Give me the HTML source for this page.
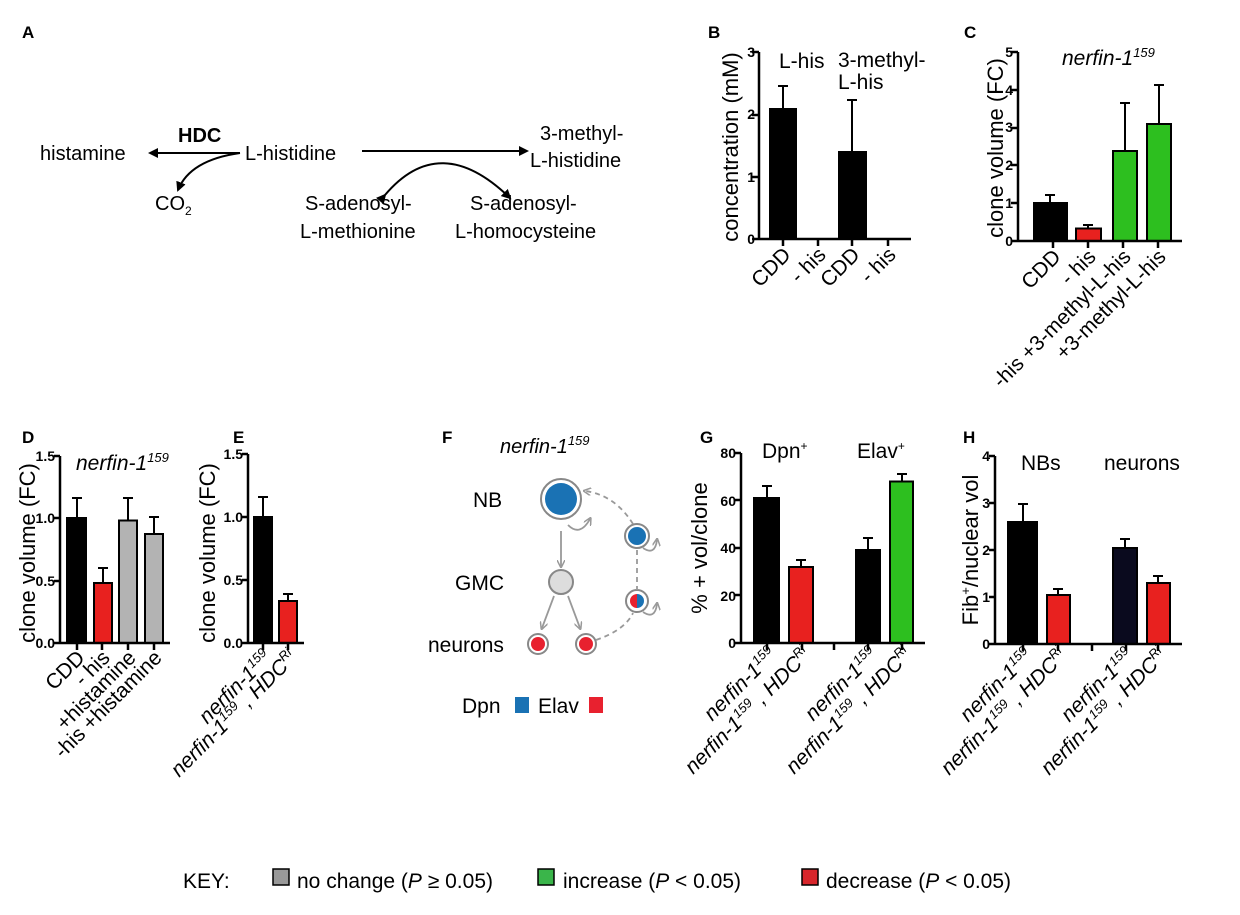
<!DOCTYPE html>
<html><head><meta charset="utf-8"><style>
html,body{margin:0;padding:0;background:#fff}
svg{display:block;font-family:"Liberation Sans",Arial,sans-serif}
.l{font-weight:bold;font-size:17px}
.t{font-weight:bold;font-size:14px;text-anchor:end}
.yl{font-size:22px;text-anchor:middle}
.xl{font-size:21px;text-anchor:end}
.i{font-style:italic}
.ax{stroke:#000;stroke-width:2.5;fill:none}
.e{stroke:#000;stroke-width:2;fill:none}
.b{stroke:#000;stroke-width:2}
</style></head><body>
<svg width="1240" height="915" viewBox="0 0 1240 915">
<defs><marker id="ah" markerWidth="10" markerHeight="10" refX="8" refY="5" orient="auto" markerUnits="userSpaceOnUse"><path d="M0,0 L10,5 L0,10 z" fill="#000"/></marker>
<marker id="gh" markerWidth="8" markerHeight="8" refX="6" refY="4" orient="auto" markerUnits="userSpaceOnUse"><path d="M0,0 L8,4 L0,8" fill="none" stroke="#999" stroke-width="1.5"/></marker></defs>

<text class="l" x="22" y="38">A</text><text class="l" x="708" y="38">B</text><text class="l" x="964" y="38">C</text>
<text class="l" x="22" y="443">D</text><text class="l" x="233" y="443">E</text><text class="l" x="442" y="443">F</text>
<text class="l" x="700" y="443">G</text><text class="l" x="963" y="443">H</text>

<!-- A -->
<g font-size="20">
<text x="40" y="160">histamine</text>
<text x="178" y="142" font-weight="bold">HDC</text>
<text x="245" y="160">L-histidine</text>
<text x="540" y="140">3-methyl-</text><text x="530" y="167">L-histidine</text>
<text x="155" y="210">CO<tspan font-size="12" dy="5">2</tspan></text>
<text x="305" y="210">S-adenosyl-</text><text x="300" y="238">L-methionine</text>
<text x="470" y="210">S-adenosyl-</text><text x="455" y="238">L-homocysteine</text>
</g>
<line x1="240" y1="153" x2="150" y2="153" class="e" marker-end="url(#ah)"/>
<path d="M240,153 Q190,160 178,190" class="e" marker-end="url(#ah)"/>
<line x1="362" y1="151" x2="527" y2="151" class="e" marker-end="url(#ah)"/>
<path d="M385,195 Q440,130 510,198" class="e" marker-start="url(#ah)" marker-end="url(#ah)"/>

<!-- B -->
<text class="yl" transform="translate(738,147) rotate(-90)">concentration (mM)</text>
<g class="t"><text x="755" y="244">0</text><text x="755" y="182">1</text><text x="755" y="119">2</text><text x="755" y="57">3</text></g>
<rect x="770" y="109" width="26" height="130" class="b"/>
<rect x="839" y="152" width="27" height="87" class="b"/>
<path d="M783,109V86M778,86H788M852,152V100M847,100H857" class="e"/>
<path d="M759,52V240M759,239H911M752,52H759M752,115H759M752,177H759M752,239H759M783,239v7M818,239v7M852,239v7M888,239v7" class="ax"/>
<text x="779" y="68" font-size="21">L-his</text>
<text x="838" y="67" font-size="21">3-methyl-</text><text x="838" y="89" font-size="21">L-his</text>
<g class="xl"><text transform="translate(792,256) rotate(-45)">CDD</text><text transform="translate(827,256) rotate(-45)">- his</text><text transform="translate(861,256) rotate(-45)">CDD</text><text transform="translate(897,256) rotate(-45)">- his</text></g>

<!-- C -->
<text class="yl" transform="translate(1003,148) rotate(-90)">clone volume (FC)</text>
<g class="t"><text x="1013" y="246">0</text><text x="1013" y="208">1</text><text x="1013" y="170">2</text><text x="1013" y="132">3</text><text x="1013" y="95">4</text><text x="1013" y="57">5</text></g>
<rect x="1034" y="203" width="33" height="38" class="b"/>
<rect x="1076" y="228.5" width="25" height="12.5" fill="#e8211f" class="b"/>
<rect x="1113" y="151" width="24" height="90" fill="#2dbf1f" class="b"/>
<rect x="1147" y="124" width="24" height="117" fill="#2dbf1f" class="b"/>
<path d="M1050,203V195M1045,195H1055M1088,228V225M1083,225H1093M1125,151V103M1120,103H1130M1159,124V85M1154,85H1164" class="e"/>
<path d="M1018,52V242M1018,241H1182M1011,52H1018M1011,90H1018M1011,128H1018M1011,165H1018M1011,203H1018M1011,241H1018M1053,241v7M1088,241v7M1123,241v7M1158,241v7" class="ax"/>
<text x="1062" y="65" font-size="21" class="i">nerfin-1<tspan font-size="13" dy="-8">159</tspan></text>
<g class="xl"><text transform="translate(1062,258) rotate(-45)">CDD</text><text transform="translate(1097,258) rotate(-45)">- his</text><text transform="translate(1132,258) rotate(-45)">-his +3-methyl-L-his</text><text transform="translate(1167,258) rotate(-45)">+3-methyl-L-his</text></g>

<!-- D -->
<text class="yl" transform="translate(35,553) rotate(-90)">clone volume (FC)</text>
<g class="t"><text x="55" y="648">0.0</text><text x="55" y="586">0.5</text><text x="55" y="523">1.0</text><text x="55" y="461">1.5</text></g>
<rect x="67" y="518" width="19" height="125" class="b"/>
<rect x="94" y="583" width="18" height="60" fill="#e8211f" class="b"/>
<rect x="119" y="520.5" width="18" height="122.5" fill="#b3b3b3" class="b"/>
<rect x="145" y="534" width="18" height="109" fill="#b3b3b3" class="b"/>
<path d="M77,518V498M72,498H82M103,583V568M98,568H108M128,520V498M123,498H133M154,534V517M149,517H159" class="e"/>
<path d="M60,456V644M60,643H170M54,456H60M54,518H60M54,581H60M54,643H60M77,643v7M102,643v7M128,643v7M154,643v7" class="ax"/>
<text x="76" y="470" font-size="21" class="i">nerfin-1<tspan font-size="13" dy="-8">159</tspan></text>
<g class="xl"><text transform="translate(86,659) rotate(-45)">CDD</text><text transform="translate(111,659) rotate(-45)">- his</text><text transform="translate(137,659) rotate(-45)">+histamine</text><text transform="translate(163,659) rotate(-45)">-his +histamine</text></g>

<!-- E -->
<text class="yl" transform="translate(215,553) rotate(-90)">clone volume (FC)</text>
<g class="t"><text x="243" y="648">0.0</text><text x="243" y="585">0.5</text><text x="243" y="522">1.0</text><text x="243" y="459">1.5</text></g>
<rect x="254" y="517" width="18" height="126" class="b"/>
<rect x="279" y="601" width="18" height="42" fill="#e8211f" class="b"/>
<path d="M263,517V497M258,497H268M288,601V594M283,594H293" class="e"/>
<path d="M248,454V644M248,643H304M242,454H248M242,517H248M242,580H248M242,643H248M263,643v7M288,643v7" class="ax"/>
<g class="xl i"><text transform="translate(273,659) rotate(-45)">nerfin-1<tspan font-size="13" dy="-8">159</tspan></text><text transform="translate(298,659) rotate(-45)">nerfin-1<tspan font-size="13" dy="-8">159</tspan><tspan dy="8"> , HDC</tspan><tspan font-size="13" dy="-8">Ri</tspan></text></g>

<!-- F -->
<text x="500" y="453" font-size="20" class="i">nerfin-1<tspan font-size="13" dy="-8">159</tspan></text>
<g font-size="21"><text x="473" y="507">NB</text><text x="455" y="590">GMC</text><text x="428" y="652">neurons</text><text x="462" y="713">Dpn</text><text x="538" y="713">Elav</text></g>
<rect x="515" y="697" width="14" height="16" fill="#1a72b4"/><rect x="589" y="697" width="14" height="16" fill="#e8212f"/>
<g stroke="#888" stroke-width="2">
<circle cx="561" cy="499" r="20" fill="#fff"/><circle cx="561" cy="499" r="16" fill="#1a72b4" stroke="none"/>
<circle cx="637" cy="536" r="12" fill="#fff"/><circle cx="637" cy="536" r="9" fill="#1a72b4" stroke="none"/>
<circle cx="561" cy="582" r="12" fill="#ddd"/>
<circle cx="637" cy="601" r="11" fill="#fff"/>
<circle cx="538" cy="644" r="10" fill="#fff"/><circle cx="538" cy="644" r="7" fill="#e8212f" stroke="none"/>
<circle cx="586" cy="644" r="10" fill="#fff"/><circle cx="586" cy="644" r="7" fill="#e8212f" stroke="none"/>
</g>
<path d="M637,594 a7,7 0 0 0 0,14z" fill="#e8212f"/><path d="M637,594 a7,7 0 0 1 0,14z" fill="#1a72b4"/>
<g stroke="#999" stroke-width="1.8" fill="none">
<line x1="561" y1="531" x2="561" y2="566" marker-end="url(#gh)"/>
<line x1="554" y1="596" x2="542" y2="628" marker-end="url(#gh)"/>
<line x1="568" y1="596" x2="580" y2="628" marker-end="url(#gh)"/>
<path d="M568,525 q12,12 22,-6" marker-end="url(#gh)"/>
<path d="M643,548 q12,8 14,-8" marker-end="url(#gh)"/>
<path d="M643,612 q12,8 14,-8" marker-end="url(#gh)"/>
<path d="M596,640 Q625,630 633,613" stroke-dasharray="5,4"/>
<line x1="637" y1="550" x2="637" y2="590" stroke-dasharray="5,4"/>
<path d="M633,524 Q615,495 585,491" stroke-dasharray="5,4" marker-end="url(#gh)"/>
</g>

<!-- G -->
<text class="yl" transform="translate(707,548) rotate(-90)">% + vol/clone</text>
<g class="t"><text x="736" y="648">0</text><text x="736" y="601">20</text><text x="736" y="553">40</text><text x="736" y="506">60</text><text x="736" y="458">80</text></g>
<rect x="754" y="498" width="25" height="145" class="b"/>
<rect x="789" y="567" width="24" height="76" fill="#e8211f" class="b"/>
<rect x="856" y="550" width="24" height="93" class="b"/>
<rect x="890" y="481.5" width="23" height="161.5" fill="#2dbf1f" class="b"/>
<path d="M767,498V486M762,486H772M801,567V560M796,560H806M868,550V538M863,538H873M902,481V474M897,474H907" class="e"/>
<path d="M741,453V644M741,643H925M735,453H741M735,500H741M735,548H741M735,595H741M735,643H741M767,643v7M802,643v7M834,643v7M868,643v7M902,643v7" class="ax"/>
<text x="762" y="458" font-size="21">Dpn<tspan font-size="12" dy="-8">+</tspan></text>
<text x="857" y="458" font-size="21">Elav<tspan font-size="12" dy="-8">+</tspan></text>
<g class="xl i"><text transform="translate(778,656) rotate(-45)">nerfin-1<tspan font-size="13" dy="-8">159</tspan></text><text transform="translate(812,656) rotate(-45)">nerfin-1<tspan font-size="13" dy="-8">159</tspan><tspan dy="8"> , HDC</tspan><tspan font-size="13" dy="-8">Ri</tspan></text>
<text transform="translate(879,656) rotate(-45)">nerfin-1<tspan font-size="13" dy="-8">159</tspan></text><text transform="translate(913,656) rotate(-45)">nerfin-1<tspan font-size="13" dy="-8">159</tspan><tspan dy="8"> , HDC</tspan><tspan font-size="13" dy="-8">Ri</tspan></text></g>

<!-- H -->
<text class="yl" transform="translate(978,550) rotate(-90)">Fib<tspan font-size="13" dy="-8">+</tspan><tspan dy="8">/nuclear vol</tspan></text>
<g class="t"><text x="990" y="649">0</text><text x="990" y="602">1</text><text x="990" y="555">2</text><text x="990" y="508">3</text><text x="990" y="461">4</text></g>
<rect x="1008" y="522" width="29" height="122" fill="#000" class="b"/>
<rect x="1047" y="595" width="23" height="49" fill="#e8211f" class="b"/>
<rect x="1113" y="548" width="24" height="96" fill="#0a0a1e" class="b"/>
<rect x="1147" y="583" width="23" height="61" fill="#e8211f" class="b"/>
<path d="M1023,522V504M1018,504H1028M1058,595V589M1053,589H1063M1125,548V539M1120,539H1130M1158,583V576M1153,576H1163" class="e"/>
<path d="M995,456V645M995,644H1182M989,456H995M989,503H995M989,550H995M989,597H995M989,644H995M1023,644v7M1058,644v7M1092,644v7M1126,644v7M1158,644v7" class="ax"/>
<text x="1021" y="470" font-size="21">NBs</text><text x="1104" y="470" font-size="21">neurons</text>
<g class="xl i"><text transform="translate(1034,657) rotate(-45)">nerfin-1<tspan font-size="13" dy="-8">159</tspan></text><text transform="translate(1068,657) rotate(-45)">nerfin-1<tspan font-size="13" dy="-8">159</tspan><tspan dy="8"> , HDC</tspan><tspan font-size="13" dy="-8">Ri</tspan></text>
<text transform="translate(1135,657) rotate(-45)">nerfin-1<tspan font-size="13" dy="-8">159</tspan></text><text transform="translate(1168,657) rotate(-45)">nerfin-1<tspan font-size="13" dy="-8">159</tspan><tspan dy="8"> , HDC</tspan><tspan font-size="13" dy="-8">Ri</tspan></text></g>

<!-- KEY -->
<g font-size="21">
<text x="183" y="888">KEY:</text>
<rect x="273" y="869" width="16" height="16" fill="#999" stroke="#000" stroke-width="1.5"/>
<text x="297" y="888">no change (<tspan class="i">P</tspan> ≥ 0.05)</text>
<rect x="538" y="869" width="16" height="16" fill="#3ab54a" stroke="#000" stroke-width="1.5"/>
<text x="563" y="888">increase (<tspan class="i">P</tspan> &lt; 0.05)</text>
<rect x="802" y="869" width="16" height="16" fill="#d8262c" stroke="#000" stroke-width="1.5"/>
<text x="826" y="888">decrease (<tspan class="i">P</tspan> &lt; 0.05)</text>
</g>
</svg>
</body></html>
